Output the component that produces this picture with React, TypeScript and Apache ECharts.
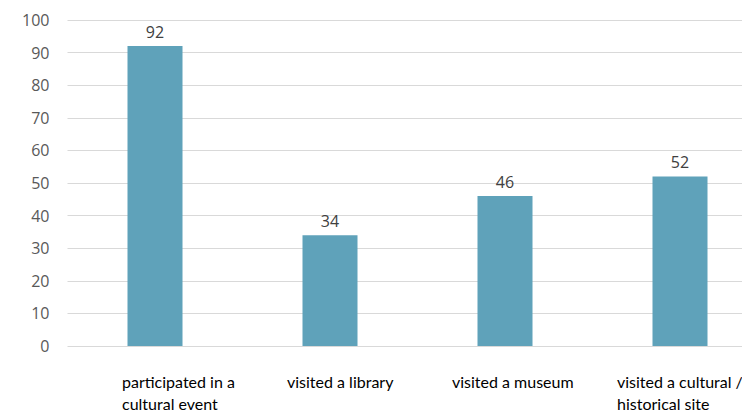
import React, { useEffect, useRef } from "react";
import * as echarts from "echarts";

const categories = [
  "participated in a\ncultural event",
  "visited a library",
  "visited a museum",
  "visited a cultural /\nhistorical site",
];
const values = [92, 34, 46, 52];
const yMin = 0;
const yMax = 100;
const yInterval = 10;

export default function App() {
  const ref = useRef<HTMLDivElement>(null);
  useEffect(() => {
    if (!ref.current) return;
    const chart = echarts.init(ref.current, undefined, { renderer: "svg" });
    chart.setOption({
      animation: false,
      grid: [
        { left: 67.5, width: 700, top: 20, bottom: 66, containLabel: false, outerBoundsMode: "none" },
        { left: 39.5, width: 660, top: 20, bottom: 66, containLabel: false, outerBoundsMode: "none" },
      ],
      xAxis: [
        {
          type: "category",
          gridIndex: 0,
          data: categories,
          axisLine: { show: false },
          axisTick: { show: false },
          axisLabel: { show: false },
        },
        {
          type: "category",
          gridIndex: 1,
          data: categories,
          axisLine: { show: false },
          axisTick: { show: false },
          axisLabel: {
            align: "left",
            margin: 24,
            color: "#000000",
            fontFamily: "Lato",
            fontSize: 16,
            lineHeight: 22,
            interval: 0,
          },
        },
      ],
      yAxis: [
        {
          type: "value",
          gridIndex: 0,
          min: yMin,
          max: yMax,
          interval: yInterval,
          axisLine: { show: false },
          axisTick: { show: false },
          splitLine: { lineStyle: { color: "#d9d9d9", width: 1 } },
          axisLabel: {
            margin: 18,
            color: "#595959",
            fontFamily: "Open Sans",
            fontSize: 16,
          },
        },
        {
          type: "value",
          gridIndex: 1,
          min: yMin,
          max: yMax,
          show: false,
          splitLine: { show: false },
        },
      ],
      series: [
        {
          type: "bar",
          xAxisIndex: 0,
          yAxisIndex: 0,
          data: values,
          barWidth: 55,
          itemStyle: { color: "#5fa2ba" },
          label: {
            show: true,
            position: "top",
            distance: 6,
            color: "#404040",
            fontFamily: "Open Sans",
            fontSize: 16,
          },
        },
      ],
    });
    return () => chart.dispose();
  }, []);
  return <div ref={ref} style={{ width: 742, height: 412, position: "absolute", left: 0, top: 0 }} />;
}
